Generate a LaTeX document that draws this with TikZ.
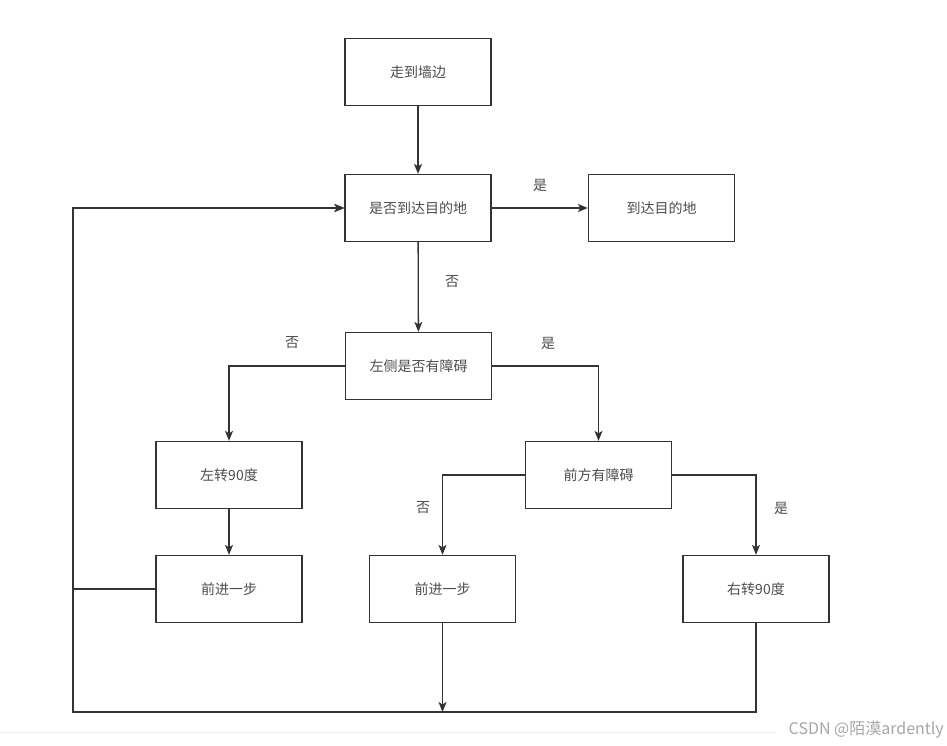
\documentclass[tikz,border=0pt]{standalone}
\usepackage{fontspec}
\newfontfamily\cjk{Noto Sans CJK SC}
\usetikzlibrary{arrows.meta}

\tikzset{
  flowbox/.style = {draw=black!80, line width=1.3pt, minimum width=146pt, minimum height=67pt,
                    inner sep=0pt, font=\cjk\fontsize{14}{16}\selectfont, text=black!70},
  flowline/.style = {draw=black!80, line width=1.3pt},
  flowarrow/.style = {flowline, -{Stealth[length=10pt, width=8pt, inset=2.5pt]}},
  branch/.style = {font=\cjk\fontsize{14}{16}\selectfont, text=black!70, inner sep=0pt}
}

\begin{document}
\begin{tikzpicture}[x=1pt, y=-1pt]
  \useasboundingbox (0,0) rectangle (947,746);
  % boxes
  \node[flowbox] (wall)   at (418,72)    {走到墙边};
  \node[flowbox] (check)  at (418,208)   {是否到达目的地};
  \node[flowbox] (arrive) at (661.5,208) {到达目的地};
  \node[flowbox] (left)   at (418.5,366) {左侧是否有障碍};
  \node[flowbox] (turnL)  at (229,475)   {左转90度};
  \node[flowbox] (front)  at (598.5,475) {前方有障碍};
  \node[flowbox] (stepL)  at (229,589)   {前进一步};
  \node[flowbox] (stepM)  at (442.5,589) {前进一步};
  \node[flowbox] (turnR)  at (756,589)   {右转90度};
  % corners of the loop back
  \coordinate (loopL) at (73,208);
  \coordinate (loopB) at (73,712);
  % branch labels
  \node[branch] (yesA) at (540,185) {是};
  \node[branch] (noA)  at (452,282) {否};
  \node[branch] (noB)  at (292,343) {否};
  \node[branch] (yesB) at (548,343) {是};
  \node[branch] (noC)  at (423,508) {否};
  \node[branch] (yesC) at (781,508) {是};
  % connectors
  \draw[flowarrow] (wall) -- (check);
  \draw[flowarrow] (check) -- (arrive);
  \draw[flowarrow] (check) -- (left);
  \draw[flowarrow] (left.west) -| (turnL.north);
  \draw[flowarrow] (left.east) -| (front.north);
  \draw[flowarrow] (turnL) -- (stepL);
  \draw[flowarrow] (front.west) -| (stepM.north);
  \draw[flowarrow] (front.east) -| (turnR.north);
  \draw[flowarrow] (stepL.west) -| (loopL) -- (check.west);
  \draw[flowarrow] (turnR.south) |- (loopB) -- (loopL) -- (check.west);
  \draw[flowarrow] (stepM.south) -- (stepM.south |- loopB);
  % page divider and watermark
  \draw[black!8, line width=1pt] (0,732) -- (776,732);
  \node[font=\cjk\fontsize{16}{18}\selectfont, text=black!35, anchor=east, inner sep=0pt] (mark) at (944,730) {CSDN @陌漠ardently};
\end{tikzpicture}
\end{document}
